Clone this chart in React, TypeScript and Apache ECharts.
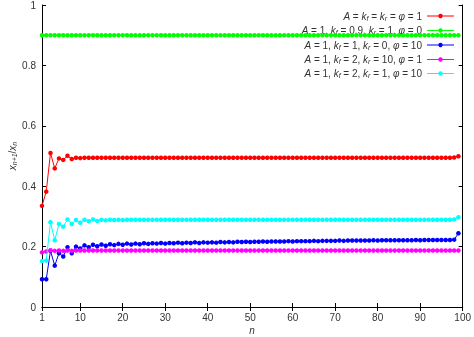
import React, { useEffect, useRef } from "react";
import * as echarts from "echarts";

// n = 1 .. 99
const redVals = [
  0.335, 0.382, 0.51, 0.459, 0.492, 0.487, 0.501, 0.49, 0.494, 0.493,
  0.494, 0.494, 0.494, 0.494, 0.494, 0.494, 0.494, 0.494, 0.494, 0.494,
  0.494, 0.494, 0.494, 0.494, 0.494, 0.494, 0.494, 0.494, 0.494, 0.494,
  0.494, 0.494, 0.494, 0.494, 0.494, 0.494, 0.494, 0.494, 0.494, 0.494,
  0.494, 0.494, 0.494, 0.494, 0.494, 0.494, 0.494, 0.494, 0.494, 0.494,
  0.494, 0.494, 0.494, 0.494, 0.494, 0.494, 0.494, 0.494, 0.494, 0.494,
  0.494, 0.494, 0.494, 0.494, 0.494, 0.494, 0.494, 0.494, 0.494, 0.494,
  0.494, 0.494, 0.494, 0.494, 0.494, 0.494, 0.494, 0.494, 0.494, 0.494,
  0.494, 0.494, 0.494, 0.494, 0.494, 0.494, 0.494, 0.494, 0.494, 0.494,
  0.494, 0.494, 0.494, 0.494, 0.494, 0.494, 0.494, 0.495, 0.499,
];
const greenVals = [
  0.9, 0.9, 0.9, 0.9, 0.9, 0.9, 0.9, 0.9, 0.9, 0.9,
  0.9, 0.9, 0.9, 0.9, 0.9, 0.9, 0.9, 0.9, 0.9, 0.9,
  0.9, 0.9, 0.9, 0.9, 0.9, 0.9, 0.9, 0.9, 0.9, 0.9,
  0.9, 0.9, 0.9, 0.9, 0.9, 0.9, 0.9, 0.9, 0.9, 0.9,
  0.9, 0.9, 0.9, 0.9, 0.9, 0.9, 0.9, 0.9, 0.9, 0.9,
  0.9, 0.9, 0.9, 0.9, 0.9, 0.9, 0.9, 0.9, 0.9, 0.9,
  0.9, 0.9, 0.9, 0.9, 0.9, 0.9, 0.9, 0.9, 0.9, 0.9,
  0.9, 0.9, 0.9, 0.9, 0.9, 0.9, 0.9, 0.9, 0.9, 0.9,
  0.9, 0.9, 0.9, 0.9, 0.9, 0.9, 0.9, 0.9, 0.9, 0.9,
  0.9, 0.9, 0.9, 0.9, 0.9, 0.9, 0.9, 0.9, 0.9,
];
const blueVals = [
  0.092, 0.092, 0.186, 0.137, 0.178, 0.167, 0.198, 0.178, 0.2, 0.194,
  0.204, 0.198, 0.206, 0.201, 0.207, 0.203, 0.208, 0.205, 0.209, 0.206,
  0.21, 0.207, 0.21, 0.208, 0.211, 0.209, 0.211, 0.21, 0.212, 0.21,
  0.212, 0.211, 0.213, 0.211, 0.213, 0.212, 0.214, 0.212, 0.214, 0.213,
  0.214, 0.213, 0.215, 0.214, 0.215, 0.214, 0.216, 0.215, 0.216, 0.215,
  0.216, 0.216, 0.217, 0.216, 0.217, 0.217, 0.217, 0.217, 0.218, 0.217,
  0.218, 0.218, 0.218, 0.218, 0.219, 0.218, 0.219, 0.219, 0.219, 0.219,
  0.22, 0.219, 0.22, 0.22, 0.22, 0.22, 0.22, 0.22, 0.221, 0.22,
  0.221, 0.221, 0.221, 0.221, 0.221, 0.221, 0.221, 0.221, 0.222, 0.221,
  0.222, 0.222, 0.222, 0.222, 0.222, 0.222, 0.222, 0.223, 0.244,
];
const magentaVals = [
  0.181, 0.184, 0.188, 0.186, 0.187, 0.186, 0.187, 0.186, 0.187, 0.187,
  0.187, 0.187, 0.187, 0.187, 0.187, 0.187, 0.187, 0.187, 0.187, 0.187,
  0.187, 0.187, 0.187, 0.187, 0.187, 0.187, 0.187, 0.187, 0.187, 0.187,
  0.187, 0.187, 0.187, 0.187, 0.187, 0.187, 0.187, 0.187, 0.187, 0.187,
  0.187, 0.187, 0.187, 0.187, 0.187, 0.187, 0.187, 0.187, 0.187, 0.187,
  0.187, 0.187, 0.187, 0.187, 0.187, 0.187, 0.187, 0.187, 0.187, 0.187,
  0.187, 0.187, 0.187, 0.187, 0.187, 0.187, 0.187, 0.187, 0.187, 0.187,
  0.187, 0.187, 0.187, 0.187, 0.187, 0.187, 0.187, 0.187, 0.187, 0.187,
  0.187, 0.187, 0.187, 0.187, 0.187, 0.187, 0.187, 0.187, 0.187, 0.187,
  0.187, 0.187, 0.187, 0.187, 0.187, 0.187, 0.187, 0.187, 0.187,
];
const cyanVals = [
  0.152, 0.154, 0.281, 0.221, 0.275, 0.266, 0.29, 0.275, 0.288, 0.279,
  0.289, 0.284, 0.29, 0.285, 0.289, 0.287, 0.289, 0.288, 0.289, 0.288,
  0.289, 0.289, 0.289, 0.289, 0.289, 0.289, 0.289, 0.289, 0.289, 0.289,
  0.289, 0.289, 0.289, 0.289, 0.289, 0.289, 0.289, 0.289, 0.289, 0.289,
  0.289, 0.289, 0.289, 0.289, 0.289, 0.289, 0.289, 0.289, 0.289, 0.289,
  0.289, 0.289, 0.289, 0.289, 0.289, 0.289, 0.289, 0.289, 0.289, 0.289,
  0.289, 0.289, 0.289, 0.289, 0.289, 0.289, 0.289, 0.289, 0.289, 0.289,
  0.289, 0.289, 0.289, 0.289, 0.289, 0.289, 0.289, 0.289, 0.289, 0.289,
  0.289, 0.289, 0.289, 0.289, 0.289, 0.289, 0.289, 0.289, 0.289, 0.289,
  0.289, 0.289, 0.289, 0.289, 0.289, 0.289, 0.289, 0.29, 0.297,
];

const xTicks = [1, 10, 20, 30, 40, 50, 60, 70, 80, 90, 100];

const seriesNames = [
  "{i|A} = {i|k}{s|f} = {i|k}{s|r} = {i|φ} = 1",
  "{i|A} = 1, {i|k}{s|f} = 0.9, {i|k}{s|r} = 1, {i|φ} = 0",
  "{i|A} = 1, {i|k}{s|f} = 1, {i|k}{s|r} = 0, {i|φ} = 10",
  "{i|A} = 1, {i|k}{s|f} = 2, {i|k}{s|r} = 10, {i|φ} = 1",
  "{i|A} = 1, {i|k}{s|f} = 2, {i|k}{s|r} = 1, {i|φ} = 10",
];
const seriesColors = ["#ff0000", "#00ff00", "#0000ff", "#ff00ff", "#00ffff"];
const seriesValues = [redVals, greenVals, blueVals, magentaVals, cyanVals];

const FONT = "Liberation Sans";
const TXT = "#333";

const rich = {
  i: { fontStyle: "italic", fontSize: 10, fontFamily: FONT, fill: TXT, color: TXT },
  s: { fontStyle: "italic", fontSize: 7, fontFamily: FONT, fill: TXT, color: TXT, verticalAlign: "bottom", padding: [4, 0, 0, 0] },
};

export default function App() {
  const ref = useRef<HTMLDivElement>(null);
  useEffect(() => {
    if (!ref.current) return;
    const chart = echarts.init(ref.current, null, { renderer: "svg" });
    const legendGraphics: any[] = [];
    const rowY = [16, 30.5, 45, 59.5, 73.5];
    seriesNames.forEach((name, k) => {
      legendGraphics.push({
        type: "text",
        z: 1,
        style: {
          text: name,
          x: 422,
          y: rowY[k],
          align: "right",
          verticalAlign: "middle",
          fontSize: 10,
          fontFamily: FONT,
          fill: TXT,
          rich,
        },
      });
      legendGraphics.push({
        type: "line",
        z: 1,
        shape: { x1: 427, y1: rowY[k], x2: 454, y2: rowY[k] },
        style: { stroke: seriesColors[k], lineWidth: 1 },
      });
      legendGraphics.push({
        type: "circle",
        z: 1,
        shape: { cx: 440.5, cy: rowY[k], r: 2.2 },
        style: { fill: seriesColors[k] },
      });
    });
    const axisCommon = {
      type: "value" as const,
      axisLine: { show: true, lineStyle: { color: "#000", width: 1 } },
      splitLine: { show: false },
    };
    chart.setOption({
      animation: false,
      grid: { left: 42, right: 10, top: 5, bottom: 30 },
      xAxis: [
        {
          ...axisCommon,
          position: "bottom",
          min: 1,
          max: 100,
          axisTick: { inside: true, length: 4, customValues: xTicks, lineStyle: { color: "#000" } },
          axisLabel: { customValues: xTicks, fontSize: 10, fontFamily: FONT, color: TXT, margin: 5 },
        },
        {
          ...axisCommon,
          position: "top",
          min: 1,
          max: 100,
          axisTick: { inside: true, length: 4, customValues: xTicks, lineStyle: { color: "#000" } },
          axisLabel: { show: false },
        },
      ],
      yAxis: [
        {
          ...axisCommon,
          position: "left",
          min: 0,
          max: 1,
          interval: 0.2,
          axisTick: { inside: true, length: 4, lineStyle: { color: "#000" } },
          axisLabel: { fontSize: 10, fontFamily: FONT, color: TXT, margin: 6 },
        },
        {
          ...axisCommon,
          position: "right",
          min: 0,
          max: 1,
          interval: 0.2,
          axisTick: { inside: true, length: 4, lineStyle: { color: "#000" } },
          axisLabel: { show: false },
        },
      ],
      series: seriesValues.map((vals, k) => ({
        type: "line",
        name: "s" + k,
        xAxisIndex: 0,
        yAxisIndex: 0,
        data: vals.map((v, i) => [i + 1, v]),
        symbol: "circle",
        symbolSize: 4.5,
        showSymbol: true,
        showAllSymbol: true,
        itemStyle: { color: seriesColors[k] },
        lineStyle: { color: seriesColors[k], width: 1 },
        z: 2 + k,
      })),
      graphic: [
        ...legendGraphics,
        {
          type: "text",
          style: {
            text: "{i|n}",
            x: 252,
            y: 330,
            align: "center",
            verticalAlign: "middle",
            rich,
          },
        },
        {
          type: "text",
          x: 12,
          y: 156,
          rotation: Math.PI / 2,
          style: {
            text: "{i|x}{s|n+1}{n|/}{i|x}{s|n}",
            x: 0,
            y: 0,
            align: "center",
            verticalAlign: "middle",
            rich: { ...rich, n: { fontSize: 10, fontFamily: FONT, fill: TXT } },
          },
        },
      ],
    });
    return () => chart.dispose();
  }, []);
  return (
    <div
      ref={ref}
      style={{ position: "fixed", left: 0, top: 0, width: 474, height: 337 }}
    />
  );
}
